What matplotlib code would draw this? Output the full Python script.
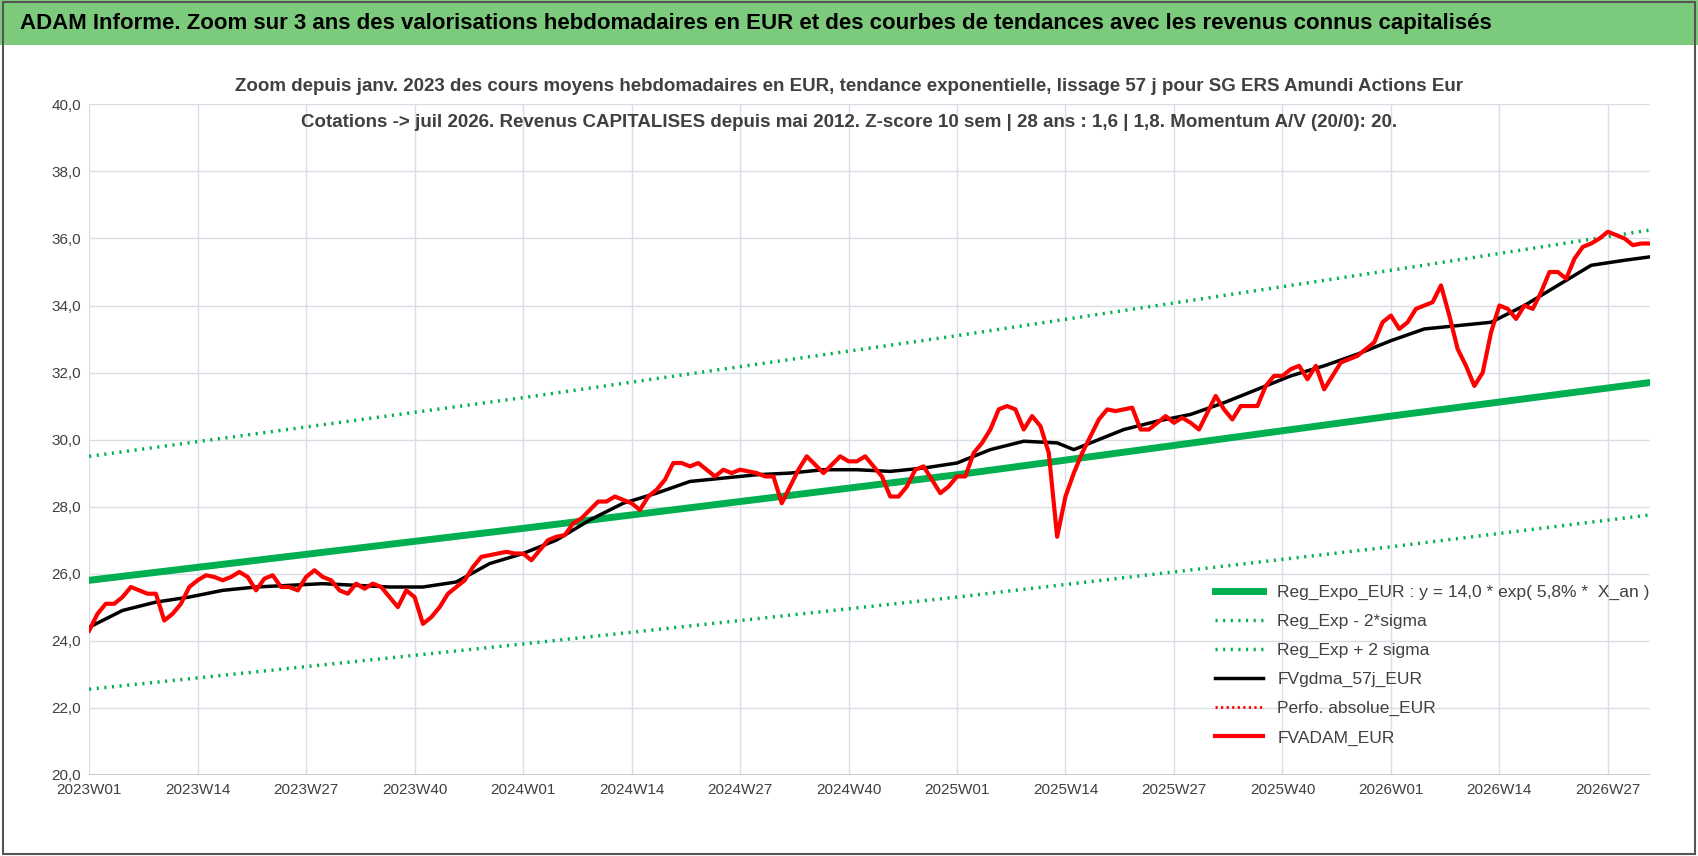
import matplotlib.pyplot as plt
from matplotlib.lines import Line2D
from matplotlib.patches import Rectangle

plt.rcParams['font.family'] = ['Liberation Sans Narrow', 'Liberation Sans', 'DejaVu Sans']

# weekly FVADAM_EUR (week index 0 = 2023W01)
fvadam = [
    24.3, 24.8, 25.1, 25.1, 25.3, 25.6, 25.5, 25.4, 25.4, 24.6,
    24.8, 25.1, 25.6, 25.8, 25.95, 25.9, 25.8, 25.9, 26.05, 25.9,
    25.5, 25.85, 25.95, 25.6, 25.6, 25.5, 25.9, 26.1, 25.9, 25.8,
    25.5, 25.4, 25.7, 25.55, 25.7, 25.6, 25.3, 25.0, 25.5, 25.3,
    24.5, 24.7, 25.0, 25.4, 25.6, 25.8, 26.2, 26.5, 26.55, 26.6,
    26.65, 26.6, 26.6, 26.4, 26.7, 27.0, 27.1, 27.15, 27.5, 27.65,
    27.9, 28.15, 28.15, 28.3, 28.2, 28.1, 27.9, 28.3, 28.5, 28.8,
    29.3, 29.3, 29.2, 29.3, 29.1, 28.9, 29.1, 29.0, 29.1, 29.05,
    29.0, 28.9, 28.9, 28.1, 28.6, 29.1, 29.5, 29.25, 29.0, 29.25,
    29.5, 29.35, 29.35, 29.5, 29.2, 28.9, 28.3, 28.3, 28.6, 29.1,
    29.2, 28.8, 28.4, 28.6, 28.9, 28.9, 29.6, 29.9, 30.3, 30.9,
    31.0, 30.9, 30.3, 30.7, 30.4, 29.6, 27.1, 28.3, 29.0, 29.6,
    30.1, 30.6, 30.9, 30.85, 30.9, 30.95, 30.3, 30.3, 30.5, 30.7,
    30.5, 30.65, 30.5, 30.3, 30.8, 31.3, 30.9, 30.6, 31.0, 31.0,
    31.0, 31.6, 31.9, 31.9, 32.1, 32.2, 31.8, 32.2, 31.5, 31.9,
    32.3, 32.4, 32.5, 32.7, 32.9, 33.5, 33.7, 33.3, 33.5, 33.9,
    34.0, 34.1, 34.6, 33.7, 32.7, 32.2, 31.6, 32.0, 33.2, 34.0,
    33.9, 33.6, 34.0, 33.9, 34.4, 35.0, 35.0, 34.8, 35.4, 35.75,
    35.85, 36.0, 36.2, 36.1, 36.0, 35.8, 35.85, 35.85,
]

# FVgdma_57j_EUR read at selected weeks
gdma_wk = [0, 4, 8, 12, 16, 20, 24, 28, 32, 36, 40, 44, 48, 52, 56, 60, 64, 68, 72, 76,
           80, 84, 88, 92, 96, 100, 104, 108, 112, 116, 118, 120, 124, 128, 132, 136, 140,
           144, 148, 152, 156, 160, 164, 168, 172, 176, 180, 184, 187]
gdma = [24.4, 24.9, 25.15, 25.3, 25.5, 25.6, 25.65, 25.7, 25.65, 25.6, 25.6, 25.75, 26.3,
        26.6, 27.0, 27.6, 28.1, 28.4, 28.75, 28.85, 28.95, 29.0, 29.1, 29.1, 29.05, 29.15,
        29.3, 29.7, 29.95, 29.9, 29.7, 29.9, 30.3, 30.55, 30.75, 31.1, 31.5, 31.9, 32.2,
        32.55, 32.95, 33.3, 33.4, 33.5, 34.0, 34.6, 35.2, 35.35, 35.45]

# regression curves read at year boundaries
reg_wk = [0, 52, 104, 156, 187]
reg = [25.8, 27.35, 28.95, 30.7, 31.7]
reg_up = [29.5, 31.25, 33.1, 35.05, 36.25]
reg_lo = [22.55, 23.9, 25.3, 26.8, 27.75]

tick_wk = list(range(0, 183, 13))
tick_lbl = ['2023W01', '2023W14', '2023W27', '2023W40', '2024W01', '2024W14', '2024W27',
            '2024W40', '2025W01', '2025W14', '2025W27', '2025W40', '2026W01', '2026W14',
            '2026W27']

green = '#00b050'
fig = plt.figure(figsize=(16.98, 8.56), dpi=100)
fig.patches.append(Rectangle((0, 0.947), 1, 0.053, transform=fig.transFigure,
                             facecolor='#7ccb7c', edgecolor='none'))
fig.patches.append(Rectangle((0.002, 0.002), 0.996, 0.996, transform=fig.transFigure,
                             facecolor='none', edgecolor='#555555', lw=1.5))
fig.text(0.012, 0.973, 'ADAM Informe. Zoom sur 3 ans des valorisations hebdomadaires en EUR '
         'et des courbes de tendances avec les revenus connus capitalisés',
         fontsize=16, fontweight='bold', va='center', ha='left')

ax = fig.add_axes([0.0525, 0.095, 0.919, 0.783])
x = list(range(len(fvadam)))
ax.plot(reg_wk, reg, color=green, lw=5)
ax.plot(reg_wk, reg_lo, color=green, lw=2.5, ls=(0, (0.6, 1.6)))
ax.plot(reg_wk, reg_up, color=green, lw=2.5, ls=(0, (0.6, 1.6)))
ax.plot(gdma_wk, gdma, color='black', lw=2.5)
ax.plot(x, fvadam, color='#ff0000', lw=3)

ax.set_xlim(0, len(fvadam) - 1)
ax.set_ylim(20, 40)
ax.set_yticks(range(20, 41, 2))
ax.set_yticklabels([f'{v:.1f}'.replace('.', ',') for v in range(20, 41, 2)])
ax.set_xticks(tick_wk)
ax.set_xticklabels(tick_lbl)
ax.tick_params(labelsize=11, colors='#404040', length=0, pad=6)
ax.grid(color='#d9dde6', lw=1)
ax.set_axisbelow(True)
for s in ax.spines.values():
    s.set_visible(False)
ax.axhline(20, color='#bfbfbf', lw=1.2)

fig.text(0.5, 0.899, 'Zoom depuis janv. 2023 des cours moyens hebdomadaires en EUR, tendance '
         'exponentielle, lissage 57 j pour SG ERS Amundi Actions Eur',
         ha='center', va='center', fontsize=13.5, fontweight='bold', color='#404040')
fig.text(0.5, 0.857, 'Cotations -> juil 2026. Revenus CAPITALISES depuis mai 2012. Z-score 10 sem '
         '| 28 ans : 1,6 | 1,8. Momentum A/V (20/0): 20.',
         ha='center', va='center', fontsize=13.5, fontweight='bold', color='#404040')

handles = [
    Line2D([], [], color=green, lw=5),
    Line2D([], [], color=green, lw=2.5, ls=(0, (0.6, 1.6))),
    Line2D([], [], color=green, lw=2.5, ls=(0, (0.6, 1.6))),
    Line2D([], [], color='black', lw=2.5),
    Line2D([], [], color='#ff0000', lw=2, ls=(0, (0.8, 1.2))),
    Line2D([], [], color='#ff0000', lw=3),
]
labels = ['Reg_Expo_EUR : y = 14,0 * exp( 5,8% *  X_an )', 'Reg_Exp - 2*sigma',
          'Reg_Exp + 2 sigma', 'FVgdma_57j_EUR', 'Perfo. absolue_EUR', 'FVADAM_EUR']
ax.legend(handles, labels, loc='lower right', bbox_to_anchor=(1.01, 0.02), frameon=False,
          fontsize=12.5, labelcolor='#404040', handlelength=2.8, labelspacing=0.8)

fig.savefig('out.png', dpi=100)
